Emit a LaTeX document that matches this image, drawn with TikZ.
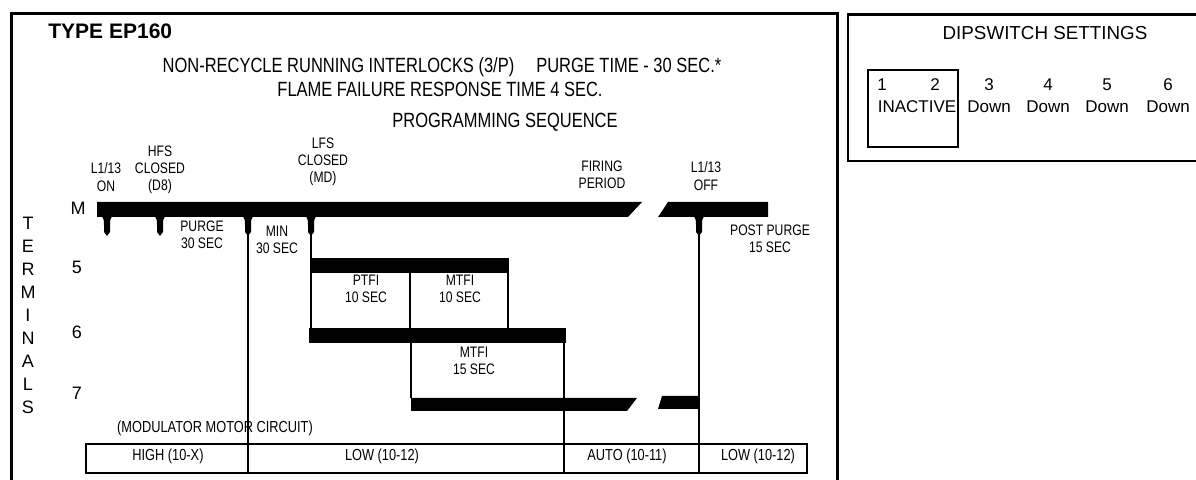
\documentclass[tikz,border=0pt]{standalone}
\usepackage{fontspec}
\setmainfont{Liberation Sans}
\newfontfamily\condfont{Liberation Sans}[FakeStretch=0.8]

\begin{document}
\begin{tikzpicture}[x=0.5pt, y=-0.5pt,
  hdr/.style={font={\condfont\fontsize{10.3}{12}\selectfont}, inner sep=0pt},
  lbl/.style={font={\condfont\fontsize{7.6}{8.6}\selectfont}, align=center, inner sep=0pt},
  tbl/.style={font={\condfont\fontsize{8}{9}\selectfont}, inner sep=0pt},
  term/.style={font={\fontsize{9}{11.5}\selectfont}, align=center, inner sep=0pt},
  dip/.style={font={\fontsize{8.5}{10}\selectfont}, inner sep=0pt},
  rule/.style={line width=0.6pt},
  tap/.pic={\fill (-6,0) .. controls (-3,2) and (-3,5) .. (-3,9) -- (-3,16) -- (0,20) -- (3,16) -- (3,9) .. controls (3,5) and (3,2) .. (6,0) -- cycle;}
]
  \useasboundingbox (0,0) rectangle (1196,480);
  \clip (0,0) rectangle (1196,480);

  \draw[line width=1.5pt] (11.5,13.5) rectangle (837,500);
  \draw[line width=1.3pt] (848,14.5) rectangle (1210,161);
  \draw[line width=1.3pt] (868,70) rectangle (958,147);

  \node[font={\bfseries\fontsize{10.5}{12}\selectfont}, anchor=west, inner sep=0pt] (title) at (48,31) {TYPE EP160};
  \node[hdr] (interlock) at (442,67) {NON-RECYCLE RUNNING INTERLOCKS (3/P)\hspace{11pt}PURGE TIME - 30 SEC.*};
  \node[hdr] (flame) at (440,89) {FLAME FAILURE RESPONSE TIME 4 SEC.};
  \node[hdr] (progseq) at (505,122) {PROGRAMMING SEQUENCE};

  \node[lbl] (l1on) at (106,177) {L1/13\\ON};
  \node[lbl] (hfs) at (160,170) {HFS\\CLOSED\\(D8)};
  \node[lbl] (lfs) at (323,162) {LFS\\CLOSED\\(MD)};
  \node[lbl] (firing) at (602,175) {FIRING\\PERIOD};
  \node[lbl] (l1off) at (706,176) {L1/13\\OFF};
  \node[lbl] (purge) at (202,235) {PURGE\\30 SEC};
  \node[lbl] (minfire) at (277,240) {MIN\\30 SEC};
  \node[lbl] (postpurge) at (770,239) {POST PURGE\\15 SEC};
  \node[lbl] (ptfi) at (366,289) {PTFI\\10 SEC};
  \node[lbl] (mtfiten) at (460,289) {MTFI\\10 SEC};
  \node[lbl] (mtfififteen) at (474,361) {MTFI\\15 SEC};

  \node[term] (terms) at (28,315) {T\\E\\R\\M\\I\\N\\A\\L\\S};
  \node[term] (tM) at (78,208) {M};
  \node[term] (tfive) at (77,267) {5};
  \node[term] (tsix) at (77,332) {6};
  \node[term] (tseven) at (77,393) {7};

  \fill (97,202) -- (642,202) -- (628,217) -- (97,217) -- cycle;
  \fill (668,202) -- (768,202) -- (768,217) -- (658,217) -- cycle;
  \fill (310,258) rectangle (509,273);
  \fill (309,328) rectangle (566,343);
  \fill (411,398) -- (637,398) -- (627,411) -- (411,411) -- cycle;
  \fill (662,396) -- (699,396) -- (699,409) -- (658,409) -- cycle;

  \pic at (107,216) {tap};
  \pic at (160,216) {tap};
  \pic at (248,216) {tap};
  \pic at (311,216) {tap};
  \pic at (699,216) {tap};

  \node[tbl] (modcirc) at (215,428) {(MODULATOR MOTOR CIRCUIT)};
  \node[tbl] (high) at (168,456) {HIGH (10-X)};
  \node[tbl] (lowa) at (382,456) {LOW (10-12)};
  \node[tbl] (auto) at (627,456) {AUTO (10-11)};
  \node[tbl] (lowb) at (758,456) {LOW (10-12)};

  \draw[rule] (86,444) rectangle (807,473);
  \draw[line width=1.2pt] (248,217) -- (248,473);
  \draw[rule] (311,217) -- (311,258);
  \draw[rule] (311,273) -- (311,328);
  \draw[rule] (410,273) -- (410,328);
  \draw[rule] (508,273) -- (508,328);
  \draw[rule] (411,343) -- (411,398);
  \draw[rule] (564,343) -- (564,437);
  \draw[line width=1pt] (564,437) -- (564,473);
  \draw[rule] (699,217) -- (699,473);

  \node[font={\fontsize{9.4}{11}\selectfont}, inner sep=0pt] (dipttl) at (1045,33) {DIPSWITCH SETTINGS};
  \node[dip] (swone) at (882,85) {1};
  \node[dip] (swtwo) at (935,85) {2};
  \node[dip] (swthree) at (989,85) {3};
  \node[dip] (swfour) at (1048,85) {4};
  \node[dip] (swfive) at (1107,85) {5};
  \node[dip] (swsix) at (1168,85) {6};
  \node[dip] (inact) at (917,107) {INACTIVE};
  \node[dip] (downthree) at (989,107) {Down};
  \node[dip] (downfour) at (1048,107) {Down};
  \node[dip] (downfive) at (1107,107) {Down};
  \node[dip] (downsix) at (1168,107) {Down};
\end{tikzpicture}
\end{document}
